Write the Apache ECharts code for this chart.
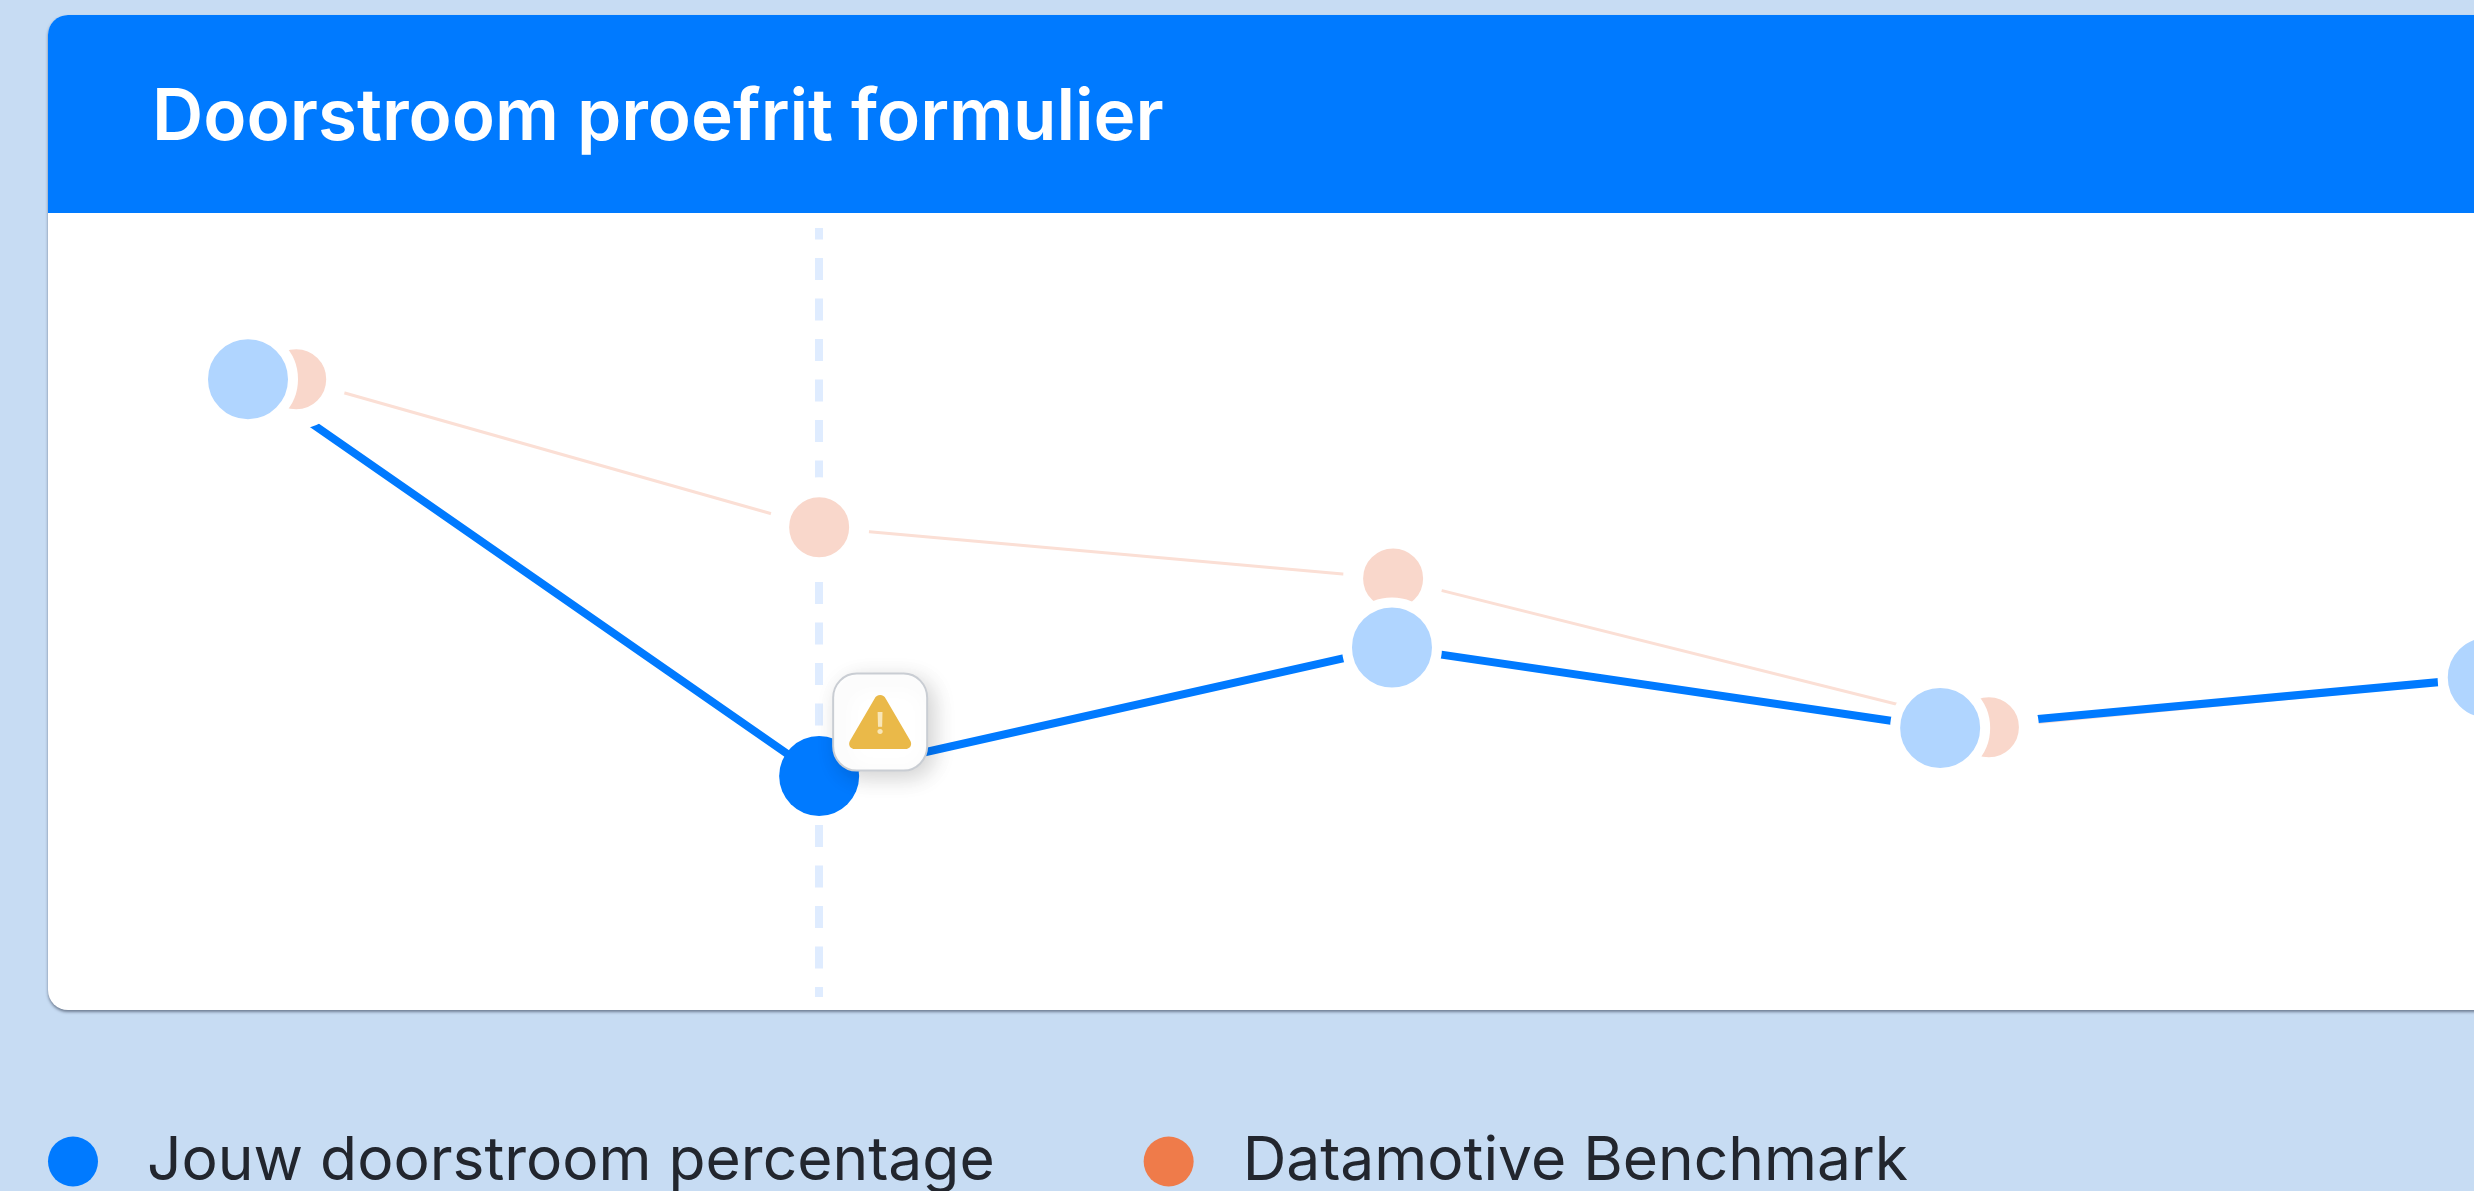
<!DOCTYPE html>
<html>
<head>
<meta charset="utf-8">
<title>Doorstroom proefrit formulier</title>
<style>
html, body { margin: 0; padding: 0; background: #c7dcf3; overflow: hidden; }
#chart { width: 2474px; height: 1191px; }
</style>
<script src="https://cdn.jsdelivr.net/npm/echarts@6/dist/echarts.min.js"></script>
</head>
<body>
<div id="chart"></div>
<script>
// waarden (geen labels zichtbaar, dus geschat in %)
const titleText = 'Doorstroom proefrit formulier';
const blueName = 'Jouw doorstroom percentage';
const orangeName = 'Datamotive Benchmark';
const blueSteps = [0, 1.019, 2.041, 3.019, 3.996];
const blueValues = [80.1, 28.9, 45.5, 35.1, 41.6];
const orangeSteps = [0.086, 1.019, 2.043, 3.106, 3.996];
const orangeValues = [80.1, 61, 54.4, 35.2, 41.4];
const warningIndex = 1;   // de stap met de waarschuwing

const blue = '#007aff';
const lightBlue = '#b0d5ff';
const orange = '#ef7b4a';
const lightOrange = '#f9d7cb';

function pairs(xs, ys) {
    return xs.map((x, i) => [x, ys[i]]);
}

const warningPoint = pairs(blueSteps, blueValues)[warningIndex];
const trianglePath = 'path://M50 6 C54 6 57 8 59 12 L98 80 C102 87 98 94 90 94 L10 94 C2 94 -2 87 2 80 L41 12 C43 8 46 6 50 6 Z';

let myChart = echarts.init(document.querySelector('#chart'), null, { renderer: 'canvas' });
myChart.setOption({
    backgroundColor: '#c7dcf3',
    animation: false,
    title: {
        text: titleText,
        left: 147,
        top: 78,
        textStyle: {
            color: '#ffffff',
            fontFamily: 'Inter',
            fontWeight: 600,
            fontSize: 71
        }
    },
    legend: {
        left: 48,
        top: 1131,
        padding: 0,
        icon: 'circle',
        itemWidth: 50,
        itemHeight: 50,
        itemGap: 149,
        selectedMode: false,
        textStyle: {
            color: '#22262e',
            fontFamily: 'Inter',
            fontSize: 60.5,
            padding: [0, 0, 0, 44]
        },
        data: [
            { name: blueName, itemStyle: { color: blue, borderWidth: 0 } },
            { name: orangeName, itemStyle: { color: orange, borderWidth: 0 } }
        ]
    },
    grid: { left: 248, right: -16, top: 225, bottom: 191, outerBoundsMode: 'none' },
    xAxis: { type: 'value', min: 0, max: 4, show: false },
    yAxis: { type: 'value', min: 0, max: 100, show: false },
    graphic: [
        {
            type: 'rect',
            z: 0,
            shape: { x: 48, y: 15, width: 2500, height: 995, r: 20 },
            style: { fill: '#ffffff', shadowColor: 'rgba(40,50,70,0.55)', shadowBlur: 3, shadowOffsetY: 2 }
        },
        {
            type: 'rect',
            z: 0,
            shape: { x: 48, y: 15, width: 2500, height: 198, r: [20, 20, 0, 0] },
            style: { fill: blue }
        }
    ],
    series: [
        {
            name: orangeName,
            type: 'line',
            z: 2,
            clip: false,
            data: pairs(orangeSteps, orangeValues),
            symbol: 'circle',
            symbolSize: 80,
            showAllSymbol: true,
            lineStyle: { color: '#fbdfd5', width: 3 },
            // witte rand = het gat tussen lijn en punt
            itemStyle: { color: lightOrange, borderColor: '#ffffff', borderWidth: 20 },
            emphasis: { disabled: true }
        },
        {
            name: blueName,
            type: 'line',
            z: 2,
            clip: false,
            data: pairs(blueSteps, blueValues).map((d, i) => {
                if (i !== warningIndex) return d;
                return { value: d, itemStyle: { color: blue, borderWidth: 0 }, symbolSize: 80 };
            }),
            symbol: 'circle',
            symbolSize: 90,
            showAllSymbol: true,
            lineStyle: { color: blue, width: 8 },
            itemStyle: { color: lightBlue, borderColor: '#ffffff', borderWidth: 10 },
            emphasis: { disabled: true },
            markLine: {
                silent: true,
                z: 1,
                symbol: 'none',
                label: { show: false },
                lineStyle: { color: '#dfecff', width: 8, type: [22, 18.5], dashOffset: 12, opacity: 1 },
                data: [[
                    { coord: [warningPoint[0], 0.4] },
                    { coord: [warningPoint[0], 99.6] }
                ]]
            },
            markPoint: {
                silent: true,
                z: 5,
                data: [
                    {
                        coord: warningPoint,
                        symbol: 'roundRect',
                        symbolSize: [94, 97],
                        symbolOffset: [61, -54],
                        itemStyle: {
                            color: '#ffffff',
                            borderColor: '#c9cdd3',
                            borderWidth: 2,
                            shadowColor: 'rgba(0,0,0,0.18)',
                            shadowBlur: 22,
                            shadowOffsetX: 6,
                            shadowOffsetY: 6
                        },
                        label: { show: false }
                    },
                    {
                        coord: warningPoint,
                        symbol: trianglePath,
                        symbolSize: [62, 54],
                        symbolOffset: [61, -54],
                        itemStyle: { color: '#eab949' },
                        label: {
                            show: true,
                            formatter: '!',
                            position: 'inside',
                            offset: [0, 3],
                            color: '#f8e6b8',
                            fontFamily: 'Inter',
                            fontWeight: 700,
                            fontSize: 30
                        }
                    }
                ]
            }
        }
    ]
});
</script>
</body>
</html>
